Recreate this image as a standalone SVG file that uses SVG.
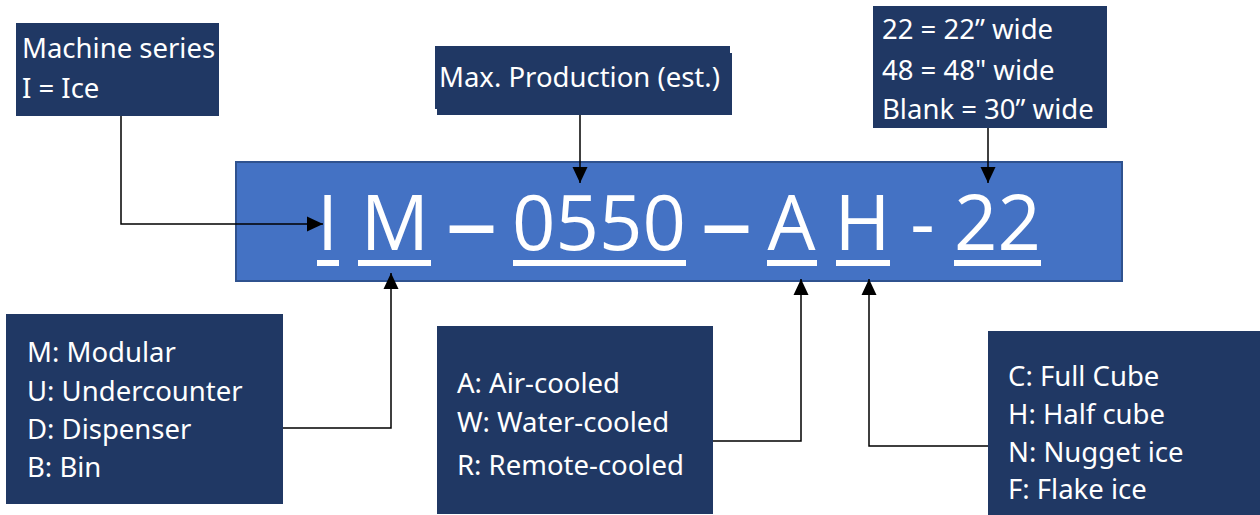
<svg xmlns="http://www.w3.org/2000/svg" width="1260" height="515" viewBox="0 0 1260 515">
  <style>
    .box { fill: #203864; }
    .lbl { font-family: "Noto Sans", "Open Sans", sans-serif; font-size: 27.5px; fill: #ffffff; }
    .big { font-family: "Open Sans", "Noto Sans", sans-serif; font-size: 76px; fill: #ffffff; text-anchor: middle; }
    .dash { font-family: "Open Sans", "Noto Sans", sans-serif; font-size: 104px; fill: #ffffff; text-anchor: middle; }
    .ul { fill: #ffffff; }
    .conn { fill: none; stroke: #000000; stroke-width: 1.5; }
  </style>
  <defs>
    <marker id="arrow" markerUnits="userSpaceOnUse" markerWidth="16" markerHeight="16" viewBox="0 0 16 16" refX="16" refY="8" orient="auto">
      <path d="M0,0.5 L16,8 L0,15.5 Z" fill="#000000"/>
    </marker>
  </defs>
  <rect width="1260" height="515" fill="#ffffff"/>

  <g id="model-code">
    <rect x="236" y="162" width="886" height="119" fill="#4472C4" stroke="#2F528F" stroke-width="2"/>
    <text class="big" x="327.5" y="250">I</text>
    <text class="big" x="395" y="250">M</text>
    <text class="dash" x="471.5" y="257">–</text>
    <text class="big" x="599" y="250">0550</text>
    <text class="dash" x="726.5" y="257">–</text>
    <text class="big" x="791.5" y="250">A</text>
    <text class="big" x="862.5" y="250">H</text>
    <text class="big" x="922.5" y="250">-</text>
    <text class="big" x="997.5" y="250">22</text>
    <rect class="ul" x="317" y="260" width="22" height="6"/>
    <rect class="ul" x="358" y="260" width="73" height="6"/>
    <rect class="ul" x="513" y="260" width="173" height="6"/>
    <rect class="ul" x="767" y="260" width="50" height="6"/>
    <rect class="ul" x="836" y="260" width="54" height="6"/>
    <rect class="ul" x="954" y="260" width="87" height="6"/>
  </g>

  <g id="series">
    <rect class="box" x="16" y="23" width="203" height="93"/>
    <text class="lbl" x="22" y="58">Machine series</text>
    <text class="lbl" x="22" y="98">I = Ice</text>
  </g>

  <g id="production">
    <rect class="box" x="435" y="46" width="295" height="63"/>
    <rect class="box" x="437" y="53" width="295" height="62"/>
    <text class="lbl" x="439" y="87">Max. Production (est.)</text>
  </g>

  <g id="width">
    <rect class="box" x="873" y="6" width="234" height="122"/>
    <text class="lbl" x="882" y="39">22 = 22” wide</text>
    <text class="lbl" x="882" y="80">48 = 48" wide</text>
    <text class="lbl" x="882" y="119">Blank = 30” wide</text>
  </g>

  <g id="type">
    <rect class="box" x="6" y="314" width="277" height="190"/>
    <text class="lbl" x="27" y="362">M: Modular</text>
    <text class="lbl" x="27" y="400.5">U: Undercounter</text>
    <text class="lbl" x="27" y="438.5">D: Dispenser</text>
    <text class="lbl" x="27" y="477">B: Bin</text>
  </g>

  <g id="cooling">
    <rect class="box" x="437" y="326" width="276" height="188"/>
    <text class="lbl" x="457" y="393">A: Air-cooled</text>
    <text class="lbl" x="457" y="432">W: Water-cooled</text>
    <text class="lbl" x="457" y="475">R: Remote-cooled</text>
  </g>

  <g id="ice-type">
    <rect class="box" x="988" y="331" width="272" height="184"/>
    <text class="lbl" x="1008" y="386">C: Full Cube</text>
    <text class="lbl" x="1008" y="424">H: Half cube</text>
    <text class="lbl" x="1008" y="462">N: Nugget ice</text>
    <text class="lbl" x="1008" y="499">F: Flake ice</text>
  </g>

  <g id="connectors">
    <path class="conn" d="M121,116 V224 H323" marker-end="url(#arrow)"/>
    <path class="conn" d="M580,115 V183" marker-end="url(#arrow)"/>
    <path class="conn" d="M988,128 V183" marker-end="url(#arrow)"/>
    <path class="conn" d="M283,428 H391 V273" marker-end="url(#arrow)"/>
    <path class="conn" d="M713,441 H801 V279" marker-end="url(#arrow)"/>
    <path class="conn" d="M988,446 H869 V279" marker-end="url(#arrow)"/>
  </g>
</svg>
